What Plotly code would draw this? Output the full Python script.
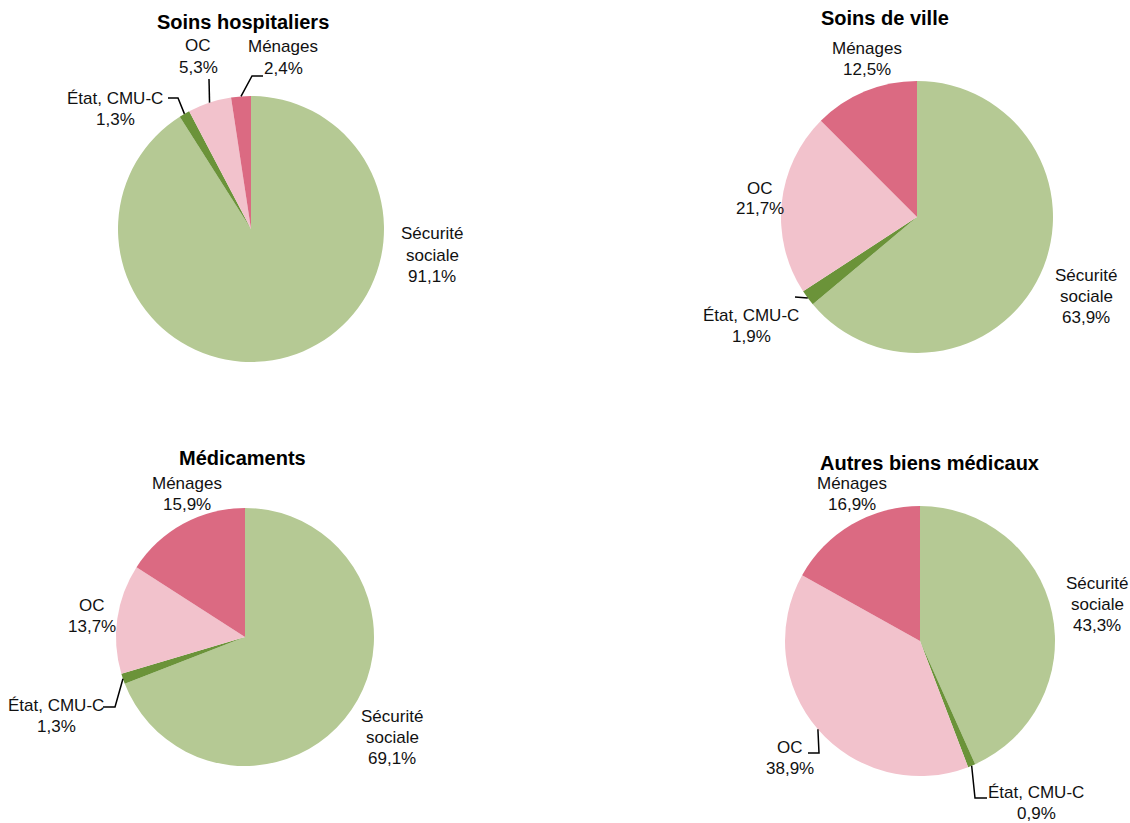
import math
import plotly.graph_objects as go

W, H = 1130, 823

categories = ["Sécurité sociale", "État, CMU-C", "OC", "Ménages"]
label_lines = [["Sécurité", "sociale"], ["État, CMU-C"], ["OC"], ["Ménages"]]
colors = ["#B5C994", "#6B9339", "#F2C2CC", "#DB6A82"]

titles = ["Soins hospitaliers", "Soins de ville", "Médicaments", "Autres biens médicaux"]
soins_hospitaliers = [91.1, 1.3, 5.3, 2.4]
soins_de_ville = [63.9, 1.9, 21.7, 12.5]
medicaments = [69.1, 1.3, 13.7, 15.9]
autres_biens = [43.3, 0.9, 38.9, 16.9]
series = [soins_hospitaliers, soins_de_ville, medicaments, autres_biens]

# layout: pie centre / radius in pixels
pies = [
    dict(cx=251, cy=229, r=133, title=(243, 22)),
    dict(cx=917, cy=217, r=136, title=(885, 18)),
    dict(cx=245, cy=637, r=129, title=(242, 458)),
    dict(cx=920, cy=641, r=135, title=(929, 463)),
]
# label centres (x, y of first line) for each category per pie
label_pos = [
    [(432, 234), (115, 98), (198, 46), (283, 47)],
    [(1086, 275), (751, 315), (760, 188), (867, 48)],
    [(392, 716), (56, 705), (92, 605), (187, 483)],
    [(1097, 583), (1036, 792), (790, 747), (852, 483)],
]
# leader lines: (pie index, category index, list of follow-up points)
leaders = [
    (0, 1, [(178, 98), (168, 98)]),
    (0, 2, [(209, 79)]),
    (0, 3, [(252, 76), (263, 76)]),
    (1, 1, [(795, 297)]),
    (2, 1, [(115, 707), (103, 707)]),
    (3, 2, [(819, 753), (808, 753)]),
    (3, 1, [(975, 798), (987, 798)]),
]

FONT = "Liberation Sans Narrow, Arial Narrow, Liberation Sans, sans-serif"
LINE = 21

def px(x):
    return x / W

def py(y):
    return 1 - y / H

fig = go.Figure()
annotations = []
shapes = []
for i, (p, vals) in enumerate(zip(pies, series)):
    fig.add_trace(go.Pie(
        labels=categories, values=vals, sort=False, direction="clockwise",
        rotation=0, marker=dict(colors=colors, line=dict(width=0)),
        textinfo="none", hoverinfo="label+percent", showlegend=False,
        domain=dict(x=[px(p["cx"] - p["r"]), px(p["cx"] + p["r"])],
                    y=[py(p["cy"] + p["r"]), py(p["cy"] - p["r"])]),
    ))
    tx, ty = p["title"]
    annotations.append(dict(x=px(tx), y=py(ty), xref="paper", yref="paper",
                            text="<b>" + titles[i] + "</b>", showarrow=False,
                            font=dict(family=FONT, size=20, color="#000"),
                            xanchor="center", yanchor="middle"))
    for j, v in enumerate(vals):
        lx, ly = label_pos[i][j]
        lines = label_lines[j] + [f"{v:.1f}%".replace(".", ",")]
        for k, t in enumerate(lines):
            annotations.append(dict(x=px(lx), y=py(ly + k * LINE), xref="paper", yref="paper",
                                    text=t, showarrow=False,
                                    font=dict(family=FONT, size=17, color="#111"),
                                    xanchor="center", yanchor="middle"))

for (i, j, pts) in leaders:
    p = pies[i]
    vals = series[i]
    tot = sum(vals)
    mid = (sum(vals[:j]) + vals[j] / 2) / tot * 2 * math.pi
    sx = p["cx"] + p["r"] * math.sin(mid)
    sy = p["cy"] - p["r"] * math.cos(mid)
    path = f"M {px(sx)} {py(sy)}"
    for (x, y) in pts:
        path += f" L {px(x)} {py(y)}"
    shapes.append(dict(type="path", path=path, xref="paper", yref="paper",
                       line=dict(color="#000", width=1.5)))

fig.update_layout(width=W, height=H, margin=dict(l=0, r=0, t=0, b=0),
                  paper_bgcolor="white", plot_bgcolor="white",
                  annotations=annotations, shapes=shapes)
fig.write_html("out.html", config={"displayModeBar": False},
               post_script="document.body.style.margin='0';document.body.style.overflow='hidden';")
